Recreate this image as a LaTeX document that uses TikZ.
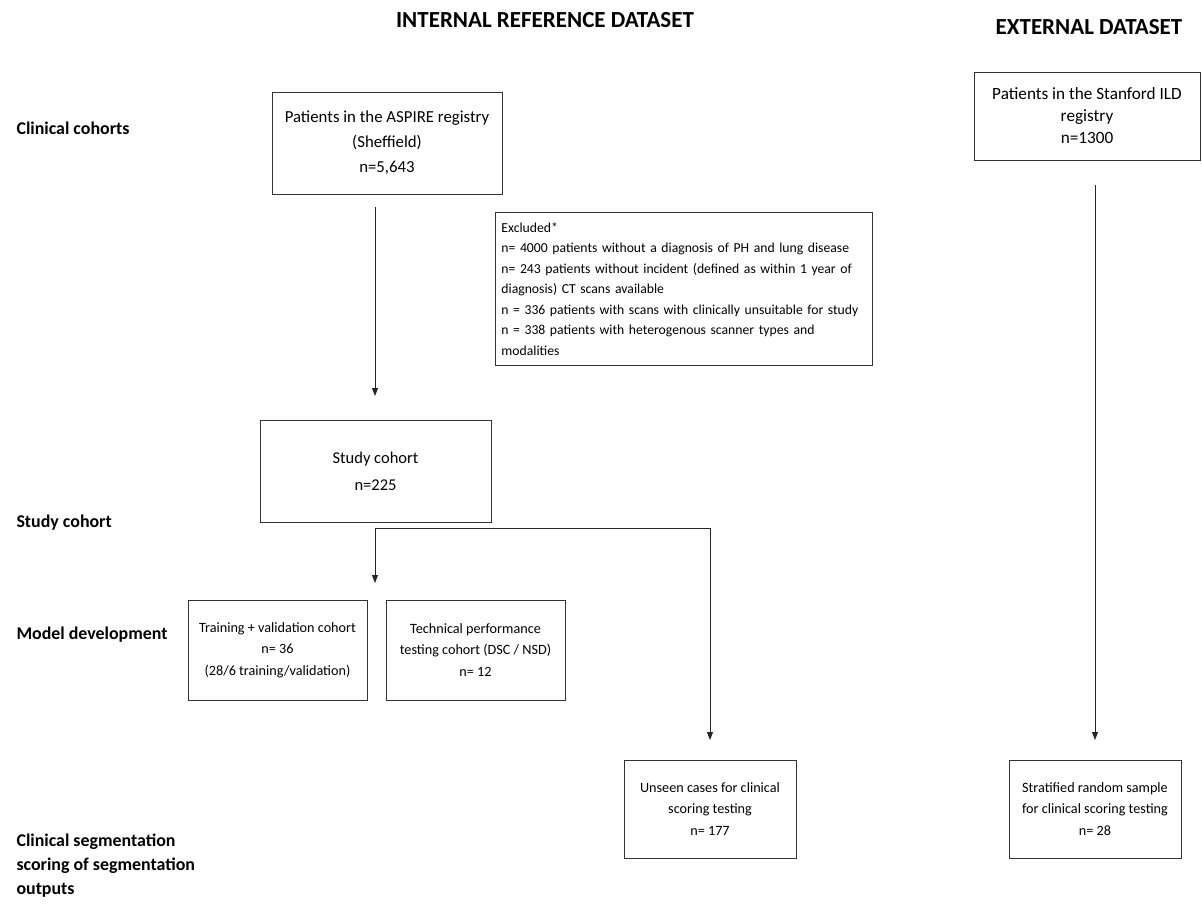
\documentclass[tikz,border=0pt]{standalone}
\usepackage{fontspec}
\setmainfont{Carlito}
\usetikzlibrary{arrows.meta}
\begin{document}
\begin{tikzpicture}[x=1pt,y=-1pt,
  box/.style={draw=black!80, line width=0.9pt, align=center, inner sep=0pt},
  stage/.style={anchor=west, align=left, font=\bfseries\fontsize{17.9}{24}\selectfont},
  heading/.style={font=\bfseries\fontsize{23}{26}\selectfont},
  small/.style={font=\fontsize{14.2}{21.5}\selectfont},
  arr/.style={draw=black!85, line width=0.9pt, -{Triangle[length=8pt,width=6pt]}},
  link/.style={draw=black!85, line width=0.9pt}]
\useasboundingbox (0,0) rectangle (1202,912);

% column headings
\node[heading] (hint) at (545,20) {INTERNAL REFERENCE DATASET};
\node[heading] (hext) at (1089,27) {EXTERNAL DATASET};

% stage labels on the left
\node[stage] (l1) at (13,128) {Clinical cohorts};
\node[stage] (l2) at (13,523) {Study cohort};
\node[stage] (l3) at (13,635) {Model development};
\node[stage, anchor=north west] (l4) at (13,830) {Clinical segmentation\\scoring of segmentation\\outputs};

% internal flow
\node[box, minimum width=230pt, minimum height=102pt, font=\fontsize{16.8}{25}\selectfont]
  (aspire) at (387,143) {Patients in the ASPIRE registry\\(Sheffield)\\n=5,643};
\node[box, anchor=north west, text width=365pt, minimum height=153pt, inner xsep=6pt, inner ysep=5pt,
  align=left, font=\fontsize{13.7}{20.5}\selectfont]
  (excl) at (495,212) {Excluded*\\
  n= 4000 patients without a diagnosis of PH and lung disease\\
  n= 243 patients without incident (defined as within 1 year of\\
  diagnosis) CT scans available\\
  n = 336 patients with scans with clinically unsuitable for study\\
  n = 338 patients with heterogenous scanner types and\\
  modalities};
\node[box, minimum width=231pt, minimum height=102pt, font=\fontsize{16.5}{27}\selectfont]
  (study) at (375.5,471) {Study cohort\\n=225};
\node[box, small, minimum width=179pt, minimum height=100pt]
  (train) at (277.5,650) {Training + validation cohort\\n= 36\\(28/6 training/validation)};
\node[box, small, minimum width=179pt, minimum height=100pt]
  (tech) at (475.5,650) {Technical performance\\testing cohort (DSC / NSD)\\n= 12};
\node[box, small, minimum width=172pt, minimum height=98pt]
  (unseen) at (710,809) {Unseen cases for clinical\\scoring testing\\n= 177};

% external flow
\node[box, minimum width=226pt, minimum height=88pt, font=\fontsize{17.2}{22}\selectfont]
  (stan) at (1087,116) {Patients in the Stanford ILD\\registry\\n=1300};
\node[box, small, minimum width=172pt, minimum height=98pt]
  (strat) at (1095,809) {Stratified random sample\\for clinical scoring testing\\n= 28};

% connectors
\coordinate (a0) at (375,207);
\coordinate (a1) at (375,396);
\coordinate (fork) at (375,528);
\coordinate (f1) at (375,583);
\coordinate (u0) at (710,740);
\coordinate (s0) at (1095,185);
\coordinate (s1) at (1095,740);
\draw[arr] (a0) -- (a1);
\draw[arr] (fork) -- (f1);
\draw[arr] (fork) -| (u0);
\draw[arr] (s0) -- (s1);
\end{tikzpicture}
\end{document}
